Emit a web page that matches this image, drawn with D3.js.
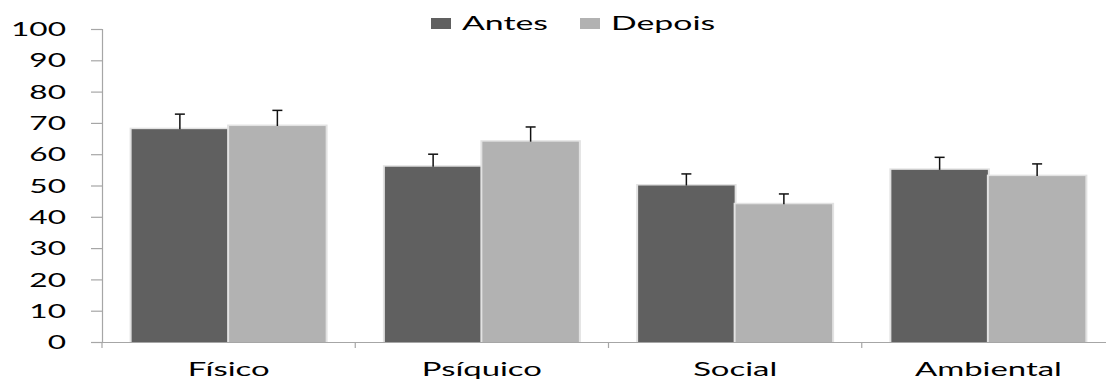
<!DOCTYPE html>
<html><head><meta charset="utf-8">
<script src="https://cdn.jsdelivr.net/npm/d3@7"></script>
<style>body{margin:0;background:#fff}</style>
</head><body>
<svg id="c" width="1106" height="380"></svg>
<script>
const categories = ["Físico", "Psíquico", "Social", "Ambiental"];
const seriesNames = ["Antes", "Depois"];
const antes = [68, 56, 50, 55];
const depois = [69, 64, 44, 53];
const antesErr = [4.8, 4, 3.7, 4];
const depoisErr = [5, 4.7, 3.3, 3.9];
const yTicks = [0, 10, 20, 30, 40, 50, 60, 70, 80, 90, 100];
const colors = ["#606060", "#b2b2b2"];

(function () {
const svg = d3.select("#c");
const mLeft = 102, mRight = 1115, mTop = 29, mBottom = 342;
const x = d3.scaleBand().domain(categories).range([mLeft, mRight]).paddingInner(0).paddingOuter(0);
const groupW = 195;
const x1 = d3.scaleBand().domain(seriesNames).range([0, groupW]);
const y = d3.scaleLinear().domain([0, 100]).range([mBottom, mTop]);
const vals = [antes, depois], errs = [antesErr, depoisErr];

const font = "Lato";
// stretch so that a reference string in the selection reaches a target width
function stretch(sel, refText, target) {
  let k = 1.5;
  sel.each(function () { if (this.textContent === refText) k = target / this.getComputedTextLength(); });
  sel.each(function () {
    const l = this.getComputedTextLength();
    d3.select(this).attr("textLength", l * k).attr("lengthAdjust", "spacingAndGlyphs");
  });
}

// bars
seriesNames.forEach((s, si) => {
  const g = svg.append("g");
  g.selectAll("rect.sh").data(categories).join("rect")
    .attr("x", d => x(d) + (x.bandwidth() - groupW) / 2 + x1(s) - 1.5)
    .attr("y", (d, i) => y(vals[si][i]) - 1.5)
    .attr("width", x1.bandwidth() + 3)
    .attr("height", (d, i) => mBottom - y(vals[si][i]) + 1.5)
    .attr("fill", "#e2e2e2");
  g.selectAll("rect.b").data(categories).join("rect")
    .attr("x", d => x(d) + (x.bandwidth() - groupW) / 2 + x1(s) + 0.5)
    .attr("y", (d, i) => y(vals[si][i]))
    .attr("width", x1.bandwidth() - 1)
    .attr("height", (d, i) => mBottom - y(vals[si][i]))
    .attr("fill", colors[si]);
  categories.forEach((c, i) => {
    const cx = x(c) + (x.bandwidth() - groupW) / 2 + x1(s) + x1.bandwidth() / 2;
    const yt = y(vals[si][i] + errs[si][i]);
    g.append("line").attr("x1", cx).attr("x2", cx).attr("y1", y(vals[si][i])).attr("y2", yt)
      .attr("stroke", "#111").attr("stroke-width", 1.5);
    g.append("line").attr("x1", cx - 5).attr("x2", cx + 5).attr("y1", yt).attr("y2", yt)
      .attr("stroke", "#111").attr("stroke-width", 1.5);
  });
});

// y axis
const ya = svg.append("g").attr("transform", `translate(${mLeft},0)`)
  .call(d3.axisLeft(y).tickValues(yTicks).tickSize(11).tickPadding(25));
ya.select(".domain").attr("stroke", "#a6a6a6").attr("stroke-width", 1.2);
ya.selectAll(".tick line").attr("stroke", "#a6a6a6").attr("stroke-width", 1.2);
ya.selectAll("text").attr("font-family", font).attr("font-size", 18.5).attr("fill", "#000").attr("dy", "0.36em")
  .call(stretch, "100", 55);

// x axis
const xa = svg.append("g").attr("transform", `translate(0,${mBottom})`)
  .call(d3.axisBottom(x).tickSize(0).tickPadding(20));
xa.select(".domain").attr("stroke", "#a6a6a6").attr("stroke-width", 1.2);
xa.selectAll("text").attr("font-family", font).attr("font-size", 19.5).attr("fill", "#000").attr("dy", "0.71em")
  .call(stretch, "Físico", 82);
const bounds = categories.map(c => x(c));
svg.append("g").selectAll("line").data(bounds).join("line")
  .attr("x1", d => d).attr("x2", d => d).attr("y1", mBottom).attr("y2", mBottom + 6)
  .attr("stroke", "#a6a6a6").attr("stroke-width", 1.2);

// legend
const legX = [431, 580];
const lg = svg.append("g");
seriesNames.forEach((s, i) => {
  lg.append("rect").attr("x", legX[i]).attr("y", 18).attr("width", 20).attr("height", 11).attr("fill", colors[i]);
  lg.append("text").attr("x", legX[i] + 31).attr("y", 30).text(s)
    .attr("font-family", font).attr("font-size", 19.5).attr("fill", "#000");
});
lg.selectAll("text").call(stretch, "Antes", 86);
})();
</script>
</body></html>
